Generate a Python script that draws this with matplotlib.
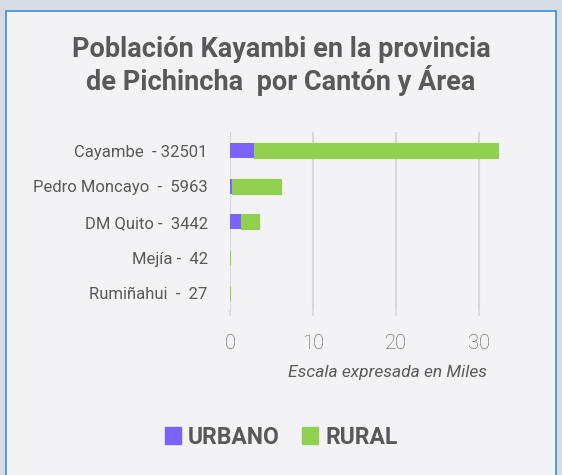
import matplotlib.pyplot as plt
from matplotlib.patches import Rectangle, Patch

# --- Datos (en miles) ---
cantones = ['Cayambe  - 32501', 'Pedro Moncayo  -  5963', 'DM Quito -  3442',
            'Mejía -  42', 'Rumiñahui  -  27']
urbano = [2.9, 0.2, 1.3, 0.0, 0.0]
rural = [29.3, 5.9, 2.2, 0.042, 0.027]
xticks = [0, 10, 20, 30]

color_urbano = '#7C63FF'
color_rural = '#92D050'
texto = '#595959'

plt.rcParams['font.family'] = ['Roboto', 'DejaVu Sans']

fig = plt.figure(figsize=(5.62, 4.75), dpi=100)
fig.patch.set_facecolor('#D7DCE4')

# panel interior con borde
panel = Rectangle((6 / 562, -0.05), 550 / 562, 1 - 11 / 475 + 0.05,
                  transform=fig.transFigure, facecolor='#F3F3F5',
                  edgecolor='#3C8FD6', linewidth=1.2, zorder=-1)
fig.patches.append(panel)

ax = fig.add_axes([230 / 562, 1 - 310 / 475, 291 / 562, 178 / 475])
ax.set_facecolor('none')

y = list(range(len(cantones)))
ax.barh(y, urbano, height=0.42, color=color_urbano, label='URBANO', zorder=3)
ax.barh(y, rural, left=urbano, height=0.42, color=color_rural, label='RURAL', zorder=3,
        edgecolor=color_rural, linewidth=0.8)

ax.set_xlim(0, 35)
ax.set_ylim(4.47, -0.52)
ax.set_xticks(xticks)
ax.set_xticklabels([str(t) for t in xticks])
ax.set_yticks(y)
ax.set_yticklabels(cantones)

ax.grid(axis='x', color='#D9D9D9', linewidth=1.5, zorder=0)
for s in ax.spines.values():
    s.set_visible(False)

ax.tick_params(axis='y', length=0, pad=16, labelsize=12, labelcolor=texto)
ax.tick_params(axis='x', length=4, width=1.2, color='#D9D9D9', pad=13,
               labelsize=14.5, labelcolor=texto)
for lbl in ax.get_xticklabels():
    lbl.set_fontweight('light')

fig.text(0.5, 1 - 66 / 475, 'Población Kayambi en la provincia\nde Pichincha  por Cantón y Área',
         ha='center', va='center', fontsize=19.5, fontweight='bold', color=texto,
         linespacing=1.05)

fig.text(487 / 562, 1 - 372 / 475, 'Escala expresada en Miles', ha='right', va='center',
         fontsize=12.5, style='italic', color=texto)

handles = [Patch(color=color_urbano, label='URBANO'), Patch(color=color_rural, label='RURAL')]
leg = fig.legend(handles=handles, loc='center', bbox_to_anchor=(0.5, 1 - 437 / 475),
                 ncol=2, frameon=False, handlelength=0.7, handleheight=0.7,
                 handletextpad=0.3, columnspacing=1.0,
                 prop={'size': 16.5, 'weight': 'bold'})
for t in leg.get_texts():
    t.set_color(texto)

fig.savefig('out.png', dpi=100, facecolor=fig.get_facecolor())
